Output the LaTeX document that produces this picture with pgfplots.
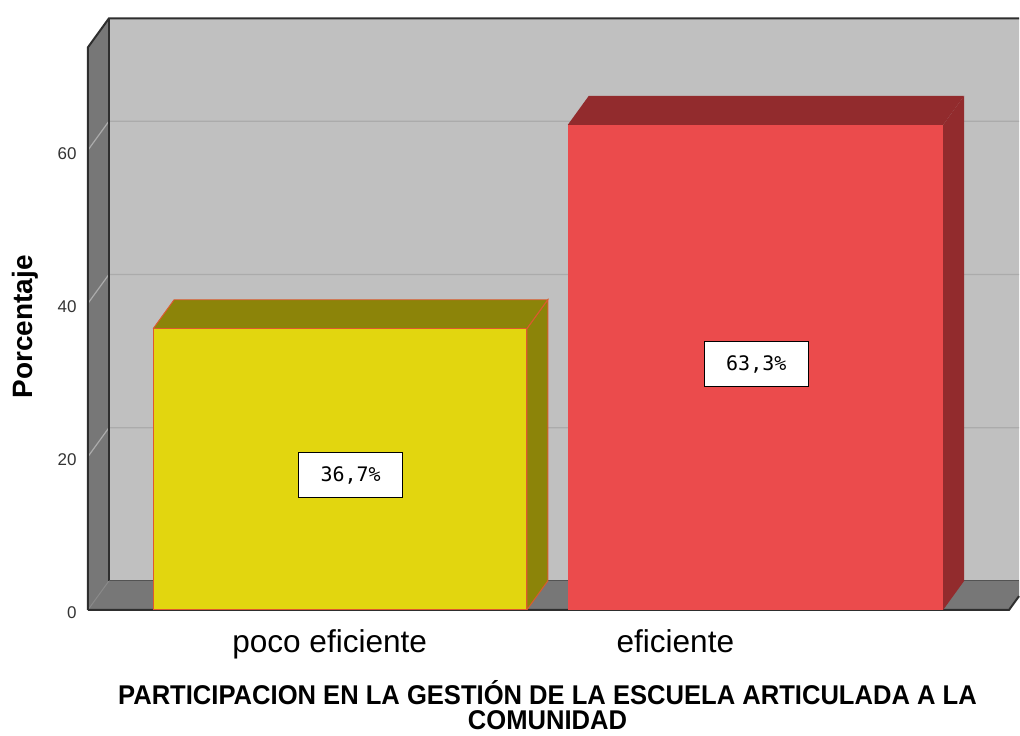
\documentclass[border=0pt]{standalone}
\usepackage{fontspec}
\setmainfont{Liberation Sans}
\newfontfamily\monofont{DejaVu Sans Mono}
\usepackage{pgfplots}
\pgfplotsset{compat=1.18}
\definecolor{wallback}{HTML}{C0C0C0}
\definecolor{walldark}{HTML}{777777}
\definecolor{edgec}{HTML}{2E2E2E}
\definecolor{gridc}{HTML}{ABABAB}
\definecolor{yfront}{HTML}{E2D60F}
\definecolor{yside}{HTML}{8C8409}
\definecolor{rfront}{HTML}{EB4B4C}
\definecolor{rside}{HTML}{922B2D}
\definecolor{yedge}{HTML}{DC5A2E}
\begin{document}
\begin{tikzpicture}
\begin{axis}[
  width=510pt, height=368pt, scale only axis,
  xmin=0, xmax=1020, ymin=-16.36, ymax=79.60,
  clip=false,
  axis line style={draw=none},
  tick style={draw=none}, major tick length=0pt,
  xtick={330,676}, xticklabels={poco eficiente, eficiente},
  xticklabel style={anchor=base, yshift=41.5pt, inner sep=0pt, font=\fontsize{15.8}{18}\selectfont},
  ytick={0,20,40,60},
  yticklabel style={anchor=east, inner sep=0pt, xshift=38.5pt, yshift=-1.5pt, font=\fontsize{8.5}{10}\selectfont, text=black!80},
  /pgf/number format/assume math mode=true,
  ylabel={Porcentaje},
  every axis y label/.style={at={(axis cs:33,36.96)}, rotate=90, anchor=base, inner sep=0pt, font=\bfseries\fontsize{14}{16}\selectfont},
  xlabel={PARTICIPACION EN LA GESTIÓN DE LA ESCUELA ARTICULADA A LA\\COMUNIDAD},
  every axis x label/.style={at={(axis cs:548,-9.15)}, anchor=north, align=center, inner sep=0pt, yscale=1.06, font=\bfseries\fontsize{12.8}{12}\selectfont},
]
% walls and floor
\addplot[fill=wallback, draw=none] coordinates {(109,3.78) (109,77.2) (1020,77.2) (1020,3.78) (109,3.78)};
\addplot[fill=walldark, draw=none] coordinates {(88,0) (88,73.42) (109,77.2) (109,3.78) (88,0)};
\addplot[fill=walldark, draw=none] coordinates {(88,0) (109,3.78) (1020,3.78) (1020,1.8) (1010,0) (88,0)};
% grid lines
\addplot[gridc, line width=0.6pt] coordinates {(88,20) (109,23.78) (1020,23.78)};
\addplot[gridc, line width=0.6pt] coordinates {(88,40) (109,43.78) (1020,43.78)};
\addplot[gridc, line width=0.6pt] coordinates {(88,60) (109,63.78) (1020,63.78)};
\addplot[gridc!80!black, line width=0.5pt] coordinates {(88,0) (109,3.78)};
% outlines
\addplot[edgec, line width=1pt] coordinates {(88,0) (88,73.42) (109,77.2) (1020,77.2)};
\addplot[edgec, line width=1pt] coordinates {(109,3.78) (109,77.2)};
\addplot[edgec, line width=1pt] coordinates {(88,0) (1010,0) (1020,1.8)};
\addplot[walldark!70!black, line width=0.5pt] coordinates {(109,3.78) (1020,3.78)};
% yellow bar (poco eficiente, 36.7)
\addplot[fill=yside, draw=yedge, line width=0.5pt] coordinates {(527.3,0) (548.3,3.78) (548.3,40.48) (527.3,36.7) (527.3,0)};
\addplot[fill=yside, draw=yedge, line width=0.5pt] coordinates {(153.3,36.7) (174.3,40.48) (548.3,40.48) (527.3,36.7) (153.3,36.7)};
\addplot[ybar, bar width=374, bar shift=0pt, fill=yfront, draw=yedge, line width=0.5pt] coordinates {(340.3,36.7)};
% red bar (eficiente, 63.3)
\addplot[fill=rside, draw=none] coordinates {(944,0) (965,3.78) (965,67.08) (944,63.3) (944,0)};
\addplot[fill=rside, draw=none] coordinates {(568.3,63.3) (589.3,67.08) (965,67.08) (944,63.3) (568.3,63.3)};
\addplot[ybar, bar width=375.7, bar shift=0pt, fill=rfront, draw=none] coordinates {(756.15,63.3)};
% value labels
\node[draw=black, fill=white, line width=0.7pt, minimum width=52pt, minimum height=22.5pt, inner sep=0pt, font=\monofont\fontsize{10}{12}\selectfont] at (axis cs:351,17.60) {36,7\%};
\node[draw=black, fill=white, line width=0.7pt, minimum width=52pt, minimum height=22.5pt, inner sep=0pt, font=\monofont\fontsize{10}{12}\selectfont] at (axis cs:757,32.07) {63,3\%};
\end{axis}
\end{tikzpicture}
\end{document}
